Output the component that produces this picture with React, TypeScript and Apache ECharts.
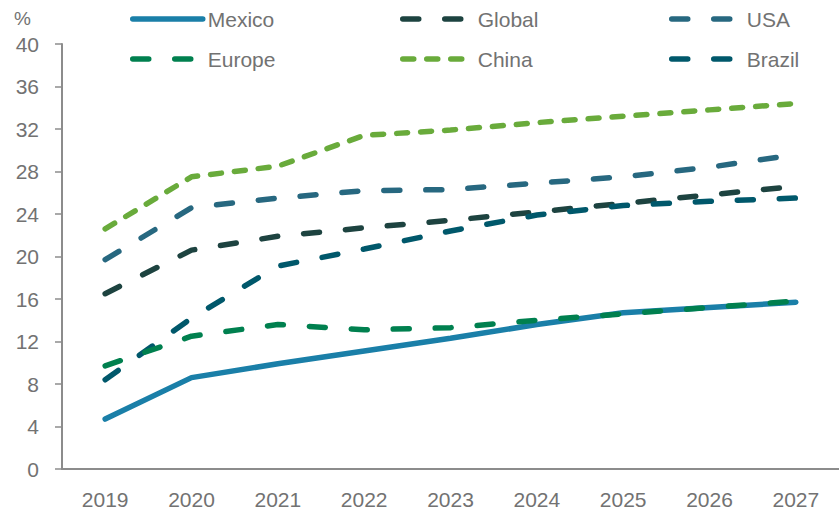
import React, { useEffect, useRef } from "react";
import * as echarts from "echarts";

const years = ["2019", "2020", "2021", "2022", "2023", "2024", "2025", "2026", "2027"];
const mexico = [4.7, 8.6, 9.9, 11.1, 12.3, 13.6, 14.7, 15.2, 15.7];
const globalV = [16.5, 20.6, 21.9, 22.7, 23.4, 24.2, 25.0, 25.8, 26.6];
const usa = [19.7, 24.6, 25.5, 26.2, 26.3, 26.9, 27.5, 28.4, 29.6];
const europe = [9.7, 12.5, 13.6, 13.1, 13.3, 14.0, 14.6, 15.2, 15.8];
const china = [22.6, 27.5, 28.5, 31.4, 31.9, 32.6, 33.2, 33.8, 34.4];
const brazil = [8.4, 14.2, 19.1, 20.7, 22.4, 23.9, 24.8, 25.2, 25.5];

const FONT = "'Liberation Sans', Arial, sans-serif";
const TXT = "#727272";
const FS = 21;

export default function App() {
  const ref = useRef<HTMLDivElement>(null);
  useEffect(() => {
    if (!ref.current) return;
    document.body.style.margin = "0";
    const chart = echarts.init(ref.current, undefined, { renderer: "svg" });
    const longDash = [16, 26];
    const mk = (name: string, data: number[], color: string, type: any, z = 2) => ({
      name,
      type: "line",
      data,
      symbol: "none",
      z,
      lineStyle: { color, width: 5.5, type, cap: "round" },
      itemStyle: { color },
    });
    const legendPos: [string, number, number][] = [
      ["Mexico", 130, 8],
      ["Global", 400, 8],
      ["USA", 669, 8],
      ["Europe", 130, 48],
      ["China", 400, 48],
      ["Brazil", 669, 48],
    ];
    chart.setOption({
      animation: false,
      grid: { left: 62, right: -3, top: 44, bottom: 43, containLabel: false },
      legend: legendPos.map(([n, l, t]) => ({
        data: [n],
        left: l,
        top: t,
        padding: 0,
        itemWidth: 70,
        itemHeight: 5,
        itemGap: 4,
        lineStyle: { width: 5.5, cap: "round" },
        itemStyle: { opacity: 0 },
        textStyle: { color: TXT, fontSize: FS, fontFamily: FONT, lineHeight: 22 },
      })),
      graphic: [
        {
          type: "text",
          left: 14,
          top: 9,
          style: { text: "%", fill: TXT, fontSize: 19, fontFamily: FONT },
        },
      ],
      xAxis: {
        type: "category",
        data: years,
        boundaryGap: true,
        axisLine: { lineStyle: { color: "#8c8c8c", width: 2 } },
        axisTick: { show: false },
        axisLabel: { color: TXT, fontSize: FS, fontFamily: FONT, margin: 20 },
      },
      yAxis: {
        type: "value",
        min: 0,
        max: 40,
        interval: 4,
        axisLine: { show: true, lineStyle: { color: "#8c8c8c", width: 2 } },
        axisTick: { show: true, inside: false, length: 7, lineStyle: { color: "#8c8c8c", width: 1.5 } },
        splitLine: { show: false },
        axisLabel: { color: TXT, fontSize: FS, fontFamily: FONT, margin: 23 },
      },
      series: [
        mk("Mexico", mexico, "#1a7fa8", "solid", 3),
        mk("Global", globalV, "#1d4340", longDash),
        mk("USA", usa, "#276880", longDash),
        mk("Europe", europe, "#00804f", longDash, 4),
        mk("China", china, "#69ab3b", [11, 13]),
        mk("Brazil", brazil, "#00586b", longDash),
      ],
    });
    return () => chart.dispose();
  }, []);
  return <div ref={ref} style={{ width: 839, height: 512 }} />;
}
